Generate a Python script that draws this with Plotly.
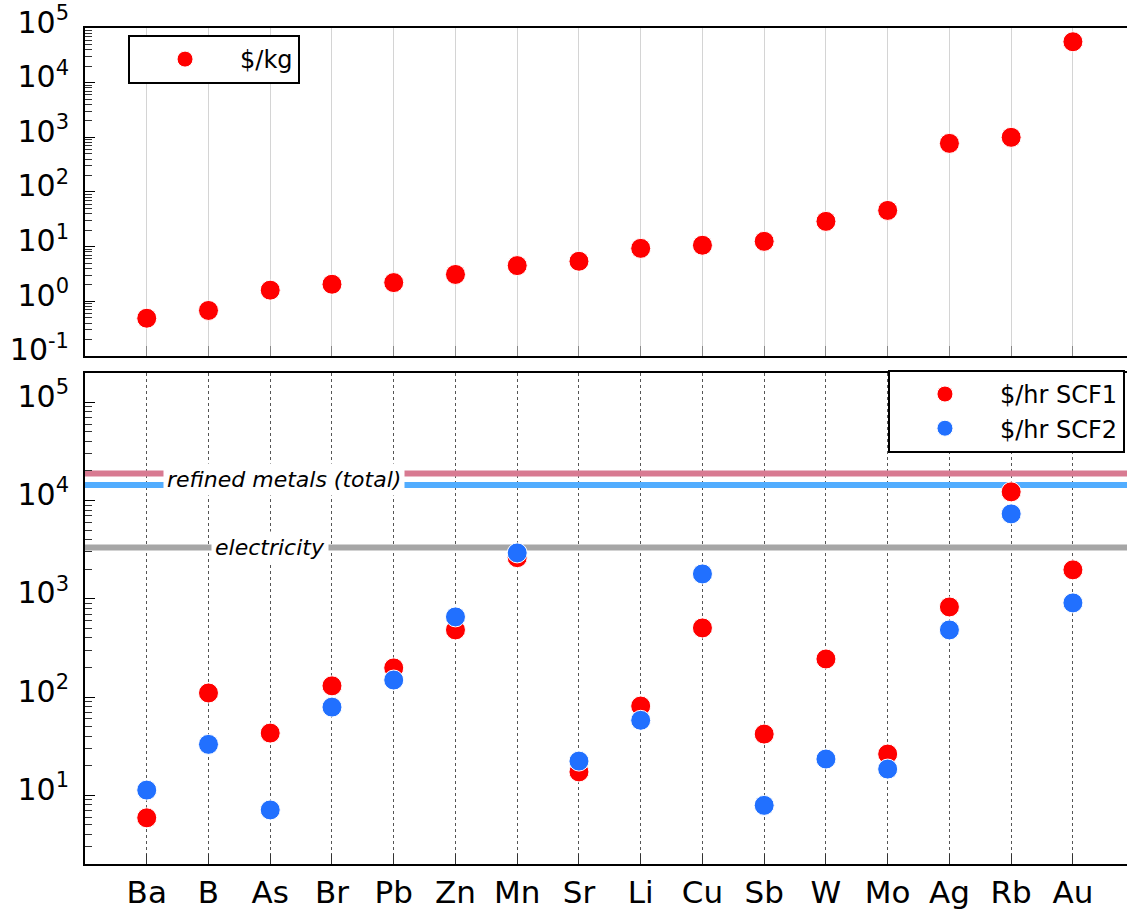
import plotly.graph_objects as go

# Elements, ordered by market price
elements = ["Ba", "B", "As", "Br", "Pb", "Zn", "Mn", "Sr", "Li", "Cu",
            "Sb", "W", "Mo", "Ag", "Rb", "Au"]

# Market price, $/kg
price_per_kg = [0.49, 0.68, 1.6, 2.05, 2.2, 3.1, 4.5, 5.4, 9.3, 10.6,
                12.5, 29, 46, 775, 1000, 56000]

# Recovery value per hour for the two feed cases
value_scf1 = [5.9, 110, 43, 130, 198, 482, 2620, 17.3, 81, 505,
              42, 244, 26.3, 826, 12250, 1970]
value_scf2 = [11.3, 33, 7.1, 79, 149, 654, 2930, 22.3, 58, 1790,
              7.9, 23.4, 18.5, 482, 7310, 908]

# Reference levels ($/hr)
refined_total_scf1 = 18800
refined_total_scf2 = 14400
electricity_cost = 3320

RED = "#ff0000"
BLUE = "#2170ff"
FONT = "DejaVu Sans"

pos = list(range(len(elements)))

fig = go.Figure()

# Horizontal reference levels in the lower panel
x_span = [-1.5, len(elements) + 0.5]
for level, colour in [(refined_total_scf1, "#d87a91"),
                      (refined_total_scf2, "#52adff"),
                      (electricity_cost, "#a6a6a6")]:
    fig.add_trace(go.Scatter(x=x_span, y=[level, level], mode="lines",
                             line=dict(color=colour, width=6), xaxis="x2", yaxis="y2",
                             showlegend=False, hoverinfo="skip"))

marker_common = dict(size=20, line=dict(color="white", width=1))

# Upper panel: price per kg
fig.add_trace(go.Scatter(x=pos, y=price_per_kg, mode="markers", name="$/kg",
                         marker=dict(color=RED, **marker_common),
                         xaxis="x", yaxis="y", legend="legend"))

# Lower panel: value per hour
fig.add_trace(go.Scatter(x=pos, y=value_scf1, mode="markers", name="$/hr SCF1",
                         marker=dict(color=RED, **marker_common),
                         xaxis="x2", yaxis="y2", legend="legend2"))
fig.add_trace(go.Scatter(x=pos, y=value_scf2, mode="markers", name="$/hr SCF2",
                         marker=dict(color=BLUE, **marker_common),
                         xaxis="x2", yaxis="y2", legend="legend2"))


def decade_labels(lo, hi):
    vals = [10.0 ** p for p in range(lo, hi + 1)]
    text = ["10<sup>%s</sup>" % (str(p) if p >= 0 else "-" + str(-p)) for p in range(lo, hi + 1)]
    minor = [m * 10.0 ** p for p in range(lo - 1, hi + 1) for m in range(2, 10)]
    return vals, text, minor


top_vals, top_text, top_minor = decade_labels(-1, 5)
bot_vals, bot_text, bot_minor = decade_labels(1, 5)

x_range = [-1.0, 15.876]
TOP_DOMAIN = [0.6077, 1]
BOT_DOMAIN = [0, 0.5877]
TOP_RANGE = [-1, 5]
BOT_RANGE = [0.30103, 5.30103]


def y_axis(domain, rng, vals, text):
    return dict(
        domain=domain, range=rng, type="log", showgrid=False, zeroline=False,
        showline=True, linecolor="black", linewidth=2, automargin=False,
        ticks="inside", ticklen=10, tickwidth=1, tickcolor="black",
        tickmode="array", tickvals=vals, ticktext=text,
        tickfont=dict(family=FONT, size=30, color="black"),
        ticklabelstandoff=8, ticklabelshift=-6,
    )


def minor_axis(over, anchor, rng, minor):
    # unlabelled shorter ticks between the decades
    return dict(
        overlaying=over, anchor=anchor, side="left", range=rng, type="log",
        showgrid=False, zeroline=False, showline=False, automargin=False,
        ticks="inside", ticklen=7, tickwidth=1, tickcolor="#333",
        tickmode="array", tickvals=minor, showticklabels=False,
    )


def x_axis(anchor, grid):
    return dict(
        domain=[0, 1], anchor=anchor, range=x_range, automargin=False,
        tickmode="array", tickvals=pos, ticktext=elements,
        showgrid=True, zeroline=False,
        showline=True, linecolor="black", linewidth=2, mirror=True,
        ticks="inside", ticklen=10, tickwidth=1,
        **grid,
    )


fig.update_layout(
    width=1127, height=913,
    margin=dict(l=85, r=0, t=28, b=49),
    paper_bgcolor="white", plot_bgcolor="white",
    font=dict(family=FONT, color="black"),
    xaxis=x_axis("y", dict(showticklabels=False, gridcolor="#d4d4d4", gridwidth=1,
                           tickcolor="#888")),
    yaxis=dict(anchor="x", **y_axis(TOP_DOMAIN, TOP_RANGE, top_vals, top_text)),
    yaxis3=minor_axis("y", "x", TOP_RANGE, top_minor),
    xaxis2=x_axis("y2", dict(gridcolor="#555", gridwidth=1, griddash="dot", tickcolor="#333",
                             tickfont=dict(family=FONT, size=31, color="black"),
                             ticklabelstandoff=0)),
    yaxis2=dict(anchor="x2", **y_axis(BOT_DOMAIN, BOT_RANGE, bot_vals, bot_text)),
    yaxis4=minor_axis("y2", "x2", BOT_RANGE, bot_minor),
    legend=dict(
        x=0.0413, y=0.9916, xanchor="left", yanchor="top",
        bgcolor="white", bordercolor="black", borderwidth=2,
        font=dict(family=FONT, size=24, color="black"),
        itemwidth=100,
    ),
    legend2=dict(
        x=0.7706, y=0.591, xanchor="left", yanchor="top",
        bgcolor="white", bordercolor="black", borderwidth=2,
        font=dict(family=FONT, size=24, color="black"),
        itemwidth=100,
    ),
    annotations=[
        dict(x=2.226, y=4.2155, xref="x2", yref="y2",
             text="<i>refined metals (total)</i>", showarrow=False,
             font=dict(family=FONT, size=22, color="black"),
             bgcolor="white", borderpad=3, xanchor="center", yanchor="middle"),
        dict(x=2.0, y=3.521, xref="x2", yref="y2",
             text="<i>electricity</i>", showarrow=False,
             font=dict(family=FONT, size=22, color="black"),
             bgcolor="white", borderpad=3, xanchor="center", yanchor="middle"),
    ],
)

# Bind the minor-tick axes to the plot so they are rendered
fig.add_trace(go.Scatter(x=[None], y=[None], xaxis="x", yaxis="y3",
                         showlegend=False, hoverinfo="skip"))
fig.add_trace(go.Scatter(x=[None], y=[None], xaxis="x2", yaxis="y4",
                         showlegend=False, hoverinfo="skip"))

fig.write_html("out.html")
